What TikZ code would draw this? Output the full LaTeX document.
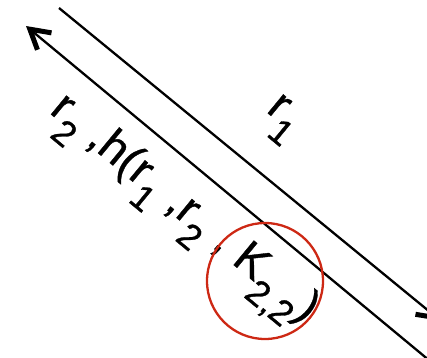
\documentclass[tikz,border=0pt]{standalone}
\usepackage{fontspec}
\setmainfont[FakeBold=0.8]{Liberation Sans}
\usetikzlibrary{arrows.meta}
\newcommand{\sub}[1]{\raisebox{-0.4em}{\scalebox{0.78}{#1}}}
\tikzset{
  edgeline/.style={line width=2.3pt, black},
  barb/.style={-{Straight Barb[length=19pt,width=22pt,line width=5pt]}},
  lbl/.style={font=\fontsize{46}{50}\selectfont, inner sep=0pt, rotate=-39.5},
  ring/.style={draw={rgb,255:red,205;green,40;blue,20}, line width=2.3pt}
}
\begin{document}
\begin{tikzpicture}[x=1pt,y=-1pt]
\useasboundingbox (0,0) rectangle (427,357);
\coordinate (u1) at (59,8);
\coordinate (u2) at (441,321);
\coordinate (l1) at (26,26);
\coordinate (l2) at (436,366);
\draw[edgeline, barb] (u1) -- (u2);
\draw[edgeline, barb] (l2) -- (l1);
\node[lbl] (t1) at (281,120) {r\sub{1}};
\node[lbl] (t2) at (180,214) {r\sub{2} ,h(r\sub{1} ,r\sub{2} , K\sub{2,2})};
\node[ring, circle, minimum size=116pt, inner sep=0pt] (c) at (265,281) {};
\end{tikzpicture}
\end{document}
